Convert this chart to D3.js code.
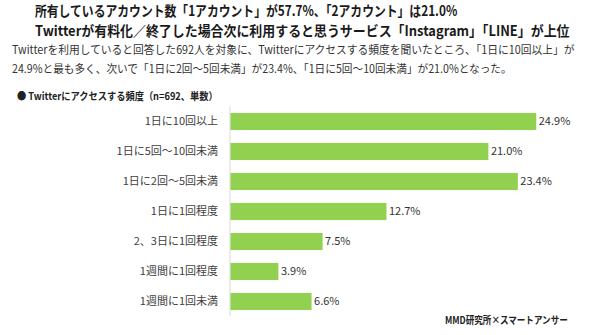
<!DOCTYPE html>
<html>
<head>
<meta charset="utf-8">
<script src="https://cdn.jsdelivr.net/npm/d3@7"></script>
<style>
   body { margin: 0; background: #fff; }
   text { font-family: "Noto Sans CJK JP", "Noto Sans", sans-serif; }
</style>
</head>
<body>
<div class="chart"></div>
<script>
// chart data
const categories = [
   "1日に10回以上",
   "1日に5回～10回未満",
   "1日に2回～5回未満",
   "1日に1回程度",
   "2、3日に1回程度",
   "1週間に1回程度",
   "1週間に1回未満"
];
const values = [24.9, 21.0, 23.4, 12.7, 7.5, 3.9, 6.6];
const titleLines = [
   "所有しているアカウント数「1アカウント」が57.7%、「2アカウント」は21.0%",
   "Twitterが有料化／終了した場合次に利用すると思うサービス「Instagram」「LINE」が上位"
];
const leadLines = [
   "Twitterを利用していると回答した692人を対象に、Twitterにアクセスする頻度を聞いたところ、「1日に10回以上」が",
   "24.9%と最も多く、次いで「1日に2回～5回未満」が23.4%、「1日に5回～10回未満」が21.0%となった。"
];
const chartTitle = "●  Twitterにアクセスする頻度（n=692、単数）";
const source = "MMD研究所×スマートアンサー";

// setup
const width = 590;
const height = 335;
const svg = d3
   .select(".chart")
   .append("svg")
   .attr("width", width)
   .attr("height", height);

// squeeze a text horizontally so it spans len px from x
const fitText = (sel, x, y, len) => {
   const natural = sel.node().getComputedTextLength();
   const sx = Math.min(1, len / natural);
   sel.attr("x", 0).attr("y", 0).attr("transform", `translate(${x}, ${y}) scale(${sx}, 1)`);
};

// headline
const titleLayout = [
   { x: 35, y: 16, len: 423 },
   { x: 35, y: 36, len: 535 }
];
titleLines.forEach((t, i) => {
   const txt = svg
      .append("text")
      .attr("font-size", 14)
      .attr("font-weight", "bold")
      .attr("fill", "#1a1a1a")
      .text(t);
   fitText(txt, titleLayout[i].x, titleLayout[i].y, titleLayout[i].len);
});

// lead text
const leadLayout = [
   { x: 12, y: 54, len: 563 },
   { x: 12, y: 73, len: 500 }
];
leadLines.forEach((t, i) => {
   const txt = svg
      .append("text")
      .attr("font-size", 11.5)
      .attr("fill", "#333")
      .text(t);
   fitText(txt, leadLayout[i].x, leadLayout[i].y, leadLayout[i].len);
});

const chartTitleText = svg
   .append("text")
   .attr("font-size", 10.5)
   .attr("font-weight", "bold")
   .attr("fill", "#222")
   .text(chartTitle);
fitText(chartTitleText, 17, 100, 201);

// scales
const xScale = d3.scaleLinear().domain([0, 25]).range([230, 537]);
const yScale = d3
   .scaleBand()
   .domain(categories)
   .range([106.5, 316.5])
   .paddingInner(0.43)
   .paddingOuter(0.215);

// category axis
const yAxis = d3.axisLeft(yScale).tickSize(0).tickPadding(12);
const axisG = svg.append("g").attr("transform", `translate(230, 0)`).call(yAxis);
axisG.select(".domain").attr("stroke", "#d9d9d9").attr("d", "M0,106.5V316.5");
axisG
   .selectAll("text")
   .attr("font-size", 11)
   .attr("fill", "#404040")
   .attr("font-family", '"Noto Sans CJK JP", sans-serif');

// bars
svg
   .selectAll("rect.bar")
   .data(values)
   .enter()
   .append("rect")
   .attr("class", "bar")
   .attr("x", xScale(0) + 0.5)
   .attr("y", (d, i) => yScale(categories[i]))
   .attr("width", (d) => xScale(d) - xScale(0))
   .attr("height", yScale.bandwidth())
   .attr("fill", "#92d050");

// value labels
svg
   .selectAll("text.value")
   .data(values)
   .enter()
   .append("text")
   .attr("class", "value")
   .attr("x", (d) => xScale(d) + 3)
   .attr("y", (d, i) => yScale(categories[i]) + yScale.bandwidth() / 2)
   .attr("dy", "0.35em")
   .attr("font-size", 11)
   .attr("fill", "#333")
   .text((d) => `${d3.format(".1f")(d)}%`);

// source
const sourceText = svg
   .append("text")
   .attr("font-size", 10)
   .attr("font-weight", "bold")
   .attr("fill", "#222")
   .text(source);
fitText(sourceText, 445, 324, 123);
</script>
</body>
</html>
